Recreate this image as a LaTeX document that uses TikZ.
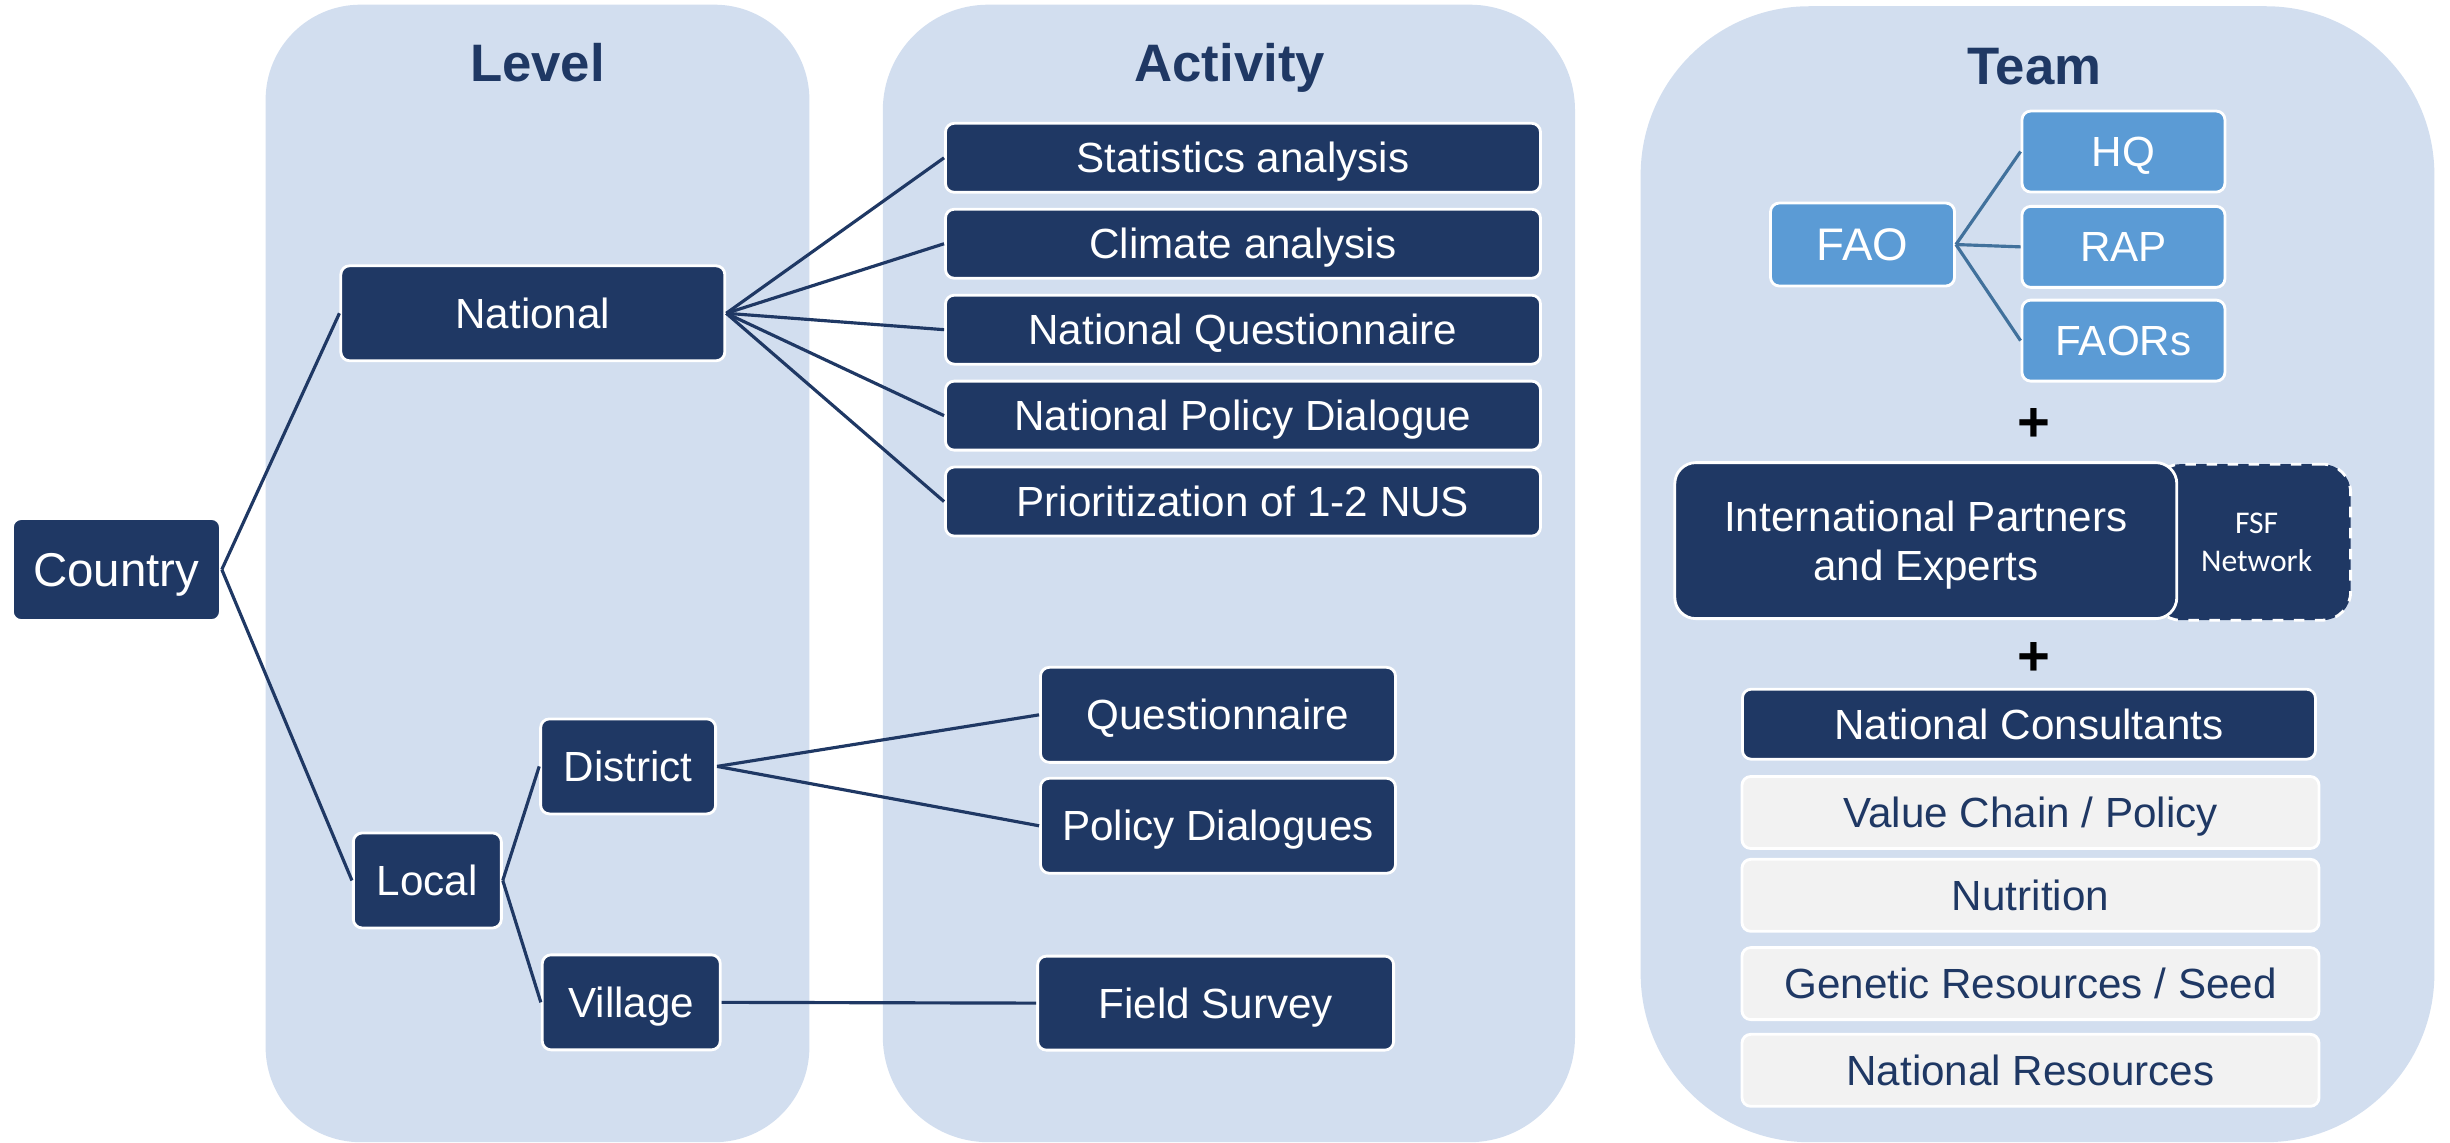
\documentclass[tikz,border=0pt]{standalone}
\usepackage{fontspec}
\setmainfont{Liberation Sans}
\newfontfamily\calibri{Carlito}
\definecolor{navy}{RGB}{31,56,100}
\definecolor{panel}{RGB}{210,222,239}
\definecolor{skyblue}{RGB}{91,155,213}
\definecolor{faoline}{RGB}{65,113,156}
\definecolor{lightgray}{RGB}{242,242,242}
\tikzset{
  darkbox/.style={draw=white, line width=0.8pt, fill=navy, text=white, rounded corners=2.5pt,
    inner sep=0pt, align=center, text height=8.6pt, text depth=0pt, font=\fontsize{12}{14}\selectfont},
  bluebox/.style={darkbox, fill=skyblue},
  graybox/.style={darkbox, fill=lightgray, text=navy},
  header/.style={text=navy, text height=10.7pt, text depth=0pt, font=\fontsize{15}{18}\selectfont\bfseries},
  link/.style={navy, line width=0.9pt},
  faolink/.style={faoline, line width=0.9pt}
}
\begin{document}
\begin{tikzpicture}[x=0.015625cm, y=-0.015625cm]
    \useasboundingbox (0,0) rectangle (1568,731);
    % panels
    \fill[panel, rounded corners=27] (170,3) rectangle (518,731);
    \fill[panel, rounded corners=30] (565,3) rectangle (1008,731);
    \fill[panel, rounded corners=48] (1050,4) rectangle (1558,731);
    \node[header] (hlevel) at (344,40) {Level};
    \node[header] (hactivity) at (787,40) {Activity};
    \node[header] (hteam) at (1302,42) {Team};

    % level
    \node[darkbox, minimum width=2.08cm, minimum height=1.02cm, text height=9.7pt, font=\fontsize{13.5}{16}\selectfont] (country) at (74.5,364.5) {Country};
    \node[darkbox, minimum width=3.84cm, minimum height=0.95cm] (national) at (341,200.5) {National};
    \node[darkbox, minimum width=1.48cm, minimum height=0.95cm] (local) at (273.5,563.5) {Local};
    \node[darkbox, minimum width=1.75cm, minimum height=0.95cm] (district) at (402,490.5) {District};
    \node[darkbox, minimum width=1.78cm, minimum height=0.95cm] (village) at (404,641.5) {Village};

    % activity
    \node[darkbox, minimum width=5.95cm, minimum height=0.69cm] (stat) at (795.5,101) {Statistics analysis};
    \node[darkbox, minimum width=5.95cm, minimum height=0.69cm] (climate) at (795.5,156) {Climate analysis};
    \node[darkbox, minimum width=5.95cm, minimum height=0.69cm] (natquest) at (795.5,211) {National Questionnaire};
    \node[darkbox, minimum width=5.95cm, minimum height=0.69cm] (natpolicy) at (795.5,266) {National Policy Dialogue};
    \node[darkbox, minimum width=5.95cm, minimum height=0.69cm] (prior) at (795.5,321) {Prioritization of 1-2 NUS};
    \node[darkbox, minimum width=3.55cm, minimum height=0.95cm] (quest) at (779.5,457.5) {Questionnaire};
    \node[darkbox, minimum width=3.55cm, minimum height=0.95cm] (policy) at (779.5,528.5) {Policy Dialogues};
    \node[darkbox, minimum width=3.56cm, minimum height=0.94cm] (field) at (778,642) {Field Survey};

    \draw[link] (country.east) -- (national.west);
    \draw[link] (country.east) -- (local.west);
    \foreach \act in {stat,climate,natquest,natpolicy,prior}
        \draw[link] (national.east) -- (\act.west);
    \draw[link] (local.east) -- (district.west);
    \draw[link] (local.east) -- (village.west);
    \draw[link] (district.east) -- (quest.west);
    \draw[link] (district.east) -- (policy.west);
    \draw[link] (village.east) -- (field.west);

    % team
    \node[bluebox, minimum width=1.84cm, minimum height=0.83cm, text height=9.3pt, font=\fontsize{13}{15}\selectfont] (fao) at (1192,156.5) {FAO};
    \node[bluebox, minimum width=2.03cm, minimum height=0.81cm] (hq) at (1359,97) {HQ};
    \node[bluebox, minimum width=2.03cm, minimum height=0.81cm] (rap) at (1359,158) {RAP};
    \node[bluebox, minimum width=2.03cm, minimum height=0.81cm] (faors) at (1359,218) {FAORs};
    \foreach \unit in {hq,rap,faors}
        \draw[faolink] (fao.east) -- (\unit.west);
    \node[font=\fontsize{16}{18}\selectfont\bfseries] (plusa) at (1302,272) {+};

    \node[darkbox, dashed, rounded corners=8pt, minimum width=1.98cm, minimum height=1.56cm, text height={},
          font=\calibri\fontsize{9}{11}\selectfont] (fsf) at (1441,347) {\hspace*{0.1cm}FSF\\\hspace*{0.1cm}Network};
    \node[darkbox, rounded corners=6pt, minimum width=5.02cm, minimum height=1.56cm, text height={}] (partners) at (1232.5,346) {International Partners\\and Experts};
    \node[font=\fontsize{16}{18}\selectfont\bfseries] (plusb) at (1302,422) {+};

    \node[darkbox, minimum width=5.73cm, minimum height=0.70cm] (consult) at (1298.5,463.5) {National Consultants};
    \node[graybox, minimum width=5.77cm, minimum height=0.72cm] (chain) at (1299.5,520) {Value Chain / Policy};
    \node[graybox, minimum width=5.77cm, minimum height=0.72cm] (nutri) at (1299.5,573) {Nutrition};
    \node[graybox, minimum width=5.77cm, minimum height=0.72cm] (seed) at (1299.5,629.5) {Genetic Resources / Seed};
    \node[graybox, minimum width=5.77cm, minimum height=0.72cm] (natres) at (1299.5,685) {National Resources};
\end{tikzpicture}
\end{document}
